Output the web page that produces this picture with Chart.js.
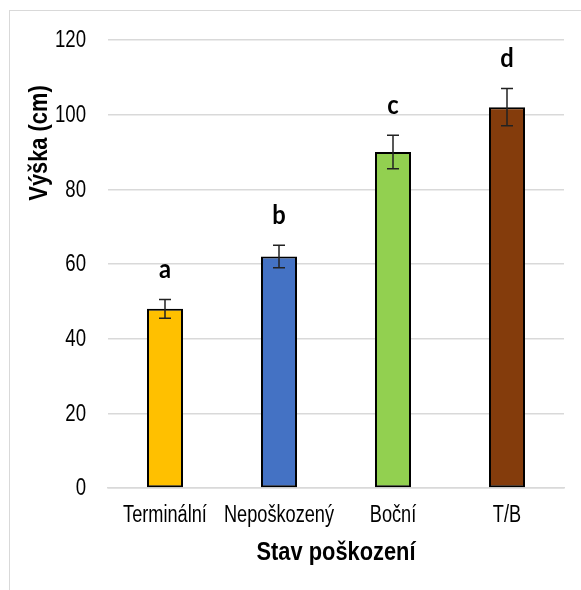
<!DOCTYPE html>
<html>
<head>
<meta charset="utf-8">
<script src="https://cdn.jsdelivr.net/npm/chart.js@4/dist/chart.umd.min.js"></script>
<style>
  html, body { margin: 0; padding: 0; background: #fff; }
  #wrap { position: relative; width: 581px; height: 590px; overflow: hidden; }
  #frame { position: absolute; left: 9px; top: 10px; width: 620px; height: 620px; border: 1px solid #d9d9d9; box-sizing: border-box; }
  canvas { position: absolute; left: 0; top: 0; }
</style>
</head>
<body>
<div id="wrap">
  <div id="frame"></div>
  <canvas id="c" width="581" height="590"></canvas>
</div>
<script>
// Plant height by damage type
const categories = ['Terminální', 'Nepoškozený', 'Boční', 'T/B'];
const heights = [48, 62, 90, 102];
const errors = [2.5, 3, 4.5, 5];
const groupLetters = ['a', 'b', 'c', 'd'];
const barColors = ['#FFC000', '#4472C4', '#92D050', '#843C0C'];
const yTicks = [0, 20, 40, 60, 80, 100, 120];

const sans = '"Liberation Sans", Arial, sans-serif';

// Draw text squeezed horizontally around its anchor point
function narrowText(ctx, text, x, y, align, squeeze) {
  ctx.save();
  ctx.translate(x, y);
  ctx.scale(squeeze, 1);
  ctx.textAlign = align;
  ctx.fillText(text, 0, 0);
  ctx.restore();
}

// Tick labels, error bars, significance letters and axis titles
const extras = {
  id: 'extras',
  afterDatasetsDraw(chart) {
    const ctx = chart.ctx;
    const y = chart.scales.y;
    const area = chart.chartArea;
    const meta = chart.getDatasetMeta(0);
    ctx.save();
    ctx.fillStyle = '#000';
    ctx.textBaseline = 'middle';

    // y tick labels
    ctx.font = '23px ' + sans;
    yTicks.forEach(v => narrowText(ctx, String(v), 86, y.getPixelForValue(v) + 1, 'right', 0.81));

    meta.data.forEach((bar, i) => {
      const cx = bar.x;
      // x tick label
      ctx.font = '23px ' + sans;
      narrowText(ctx, categories[i], cx, area.bottom + 28, 'center', 0.79);

      // error bar
      const top = y.getPixelForValue(heights[i] + errors[i]);
      const bot = y.getPixelForValue(heights[i] - errors[i]);
      ctx.strokeStyle = '#222';
      ctx.lineWidth = 1.5;
      ctx.beginPath();
      ctx.moveTo(cx, top); ctx.lineTo(cx, bot);
      ctx.moveTo(cx - 6, top); ctx.lineTo(cx + 6, top);
      ctx.moveTo(cx - 6, bot); ctx.lineTo(cx + 6, bot);
      ctx.stroke();

      // group letter
      ctx.font = 'bold 27px Lato, "Open Sans", sans-serif';
      narrowText(ctx, groupLetters[i], cx, top - 30, 'center', 0.88);
    });

    // axis titles
    ctx.font = 'bold 26px ' + sans;
    narrowText(ctx, 'Stav poškození', (area.left + area.right) / 2, 553, 'center', 0.84);

    ctx.save();
    ctx.translate(40, 143);
    ctx.rotate(-Math.PI / 2);
    narrowText(ctx, 'Výška (cm)', 0, 0, 'center', 0.84);
    ctx.restore();

    ctx.restore();
  }
};

new Chart(document.getElementById('c'), {
  type: 'bar',
  data: {
    labels: categories,
    datasets: [{
      data: heights,
      backgroundColor: barColors,
      borderColor: '#000',
      borderWidth: 2,
      borderSkipped: false,
      barPercentage: 0.316,
      categoryPercentage: 1.0
    }]
  },
  options: {
    responsive: false,
    animation: false,
    devicePixelRatio: 1,
    layout: { padding: { top: 40, right: 17, left: 0, bottom: 0 } },
    plugins: { legend: { display: false }, tooltip: { enabled: false } },
    scales: {
      x: {
        grid: { display: false, drawTicks: false },
        border: { display: true, color: '#d9d9d9', width: 1.5 },
        ticks: { display: false },
        afterFit(scale) { scale.height = 102; }
      },
      y: {
        min: 0,
        max: 120,
        afterBuildTicks(scale) { scale.ticks = yTicks.map(v => ({ value: v })); },
        grid: { color: '#d9d9d9', lineWidth: 1.5, drawTicks: false },
        border: { display: false },
        ticks: { display: false },
        afterFit(scale) { scale.width = 108; }
      }
    }
  },
  plugins: [extras]
});
</script>
</body>
</html>
